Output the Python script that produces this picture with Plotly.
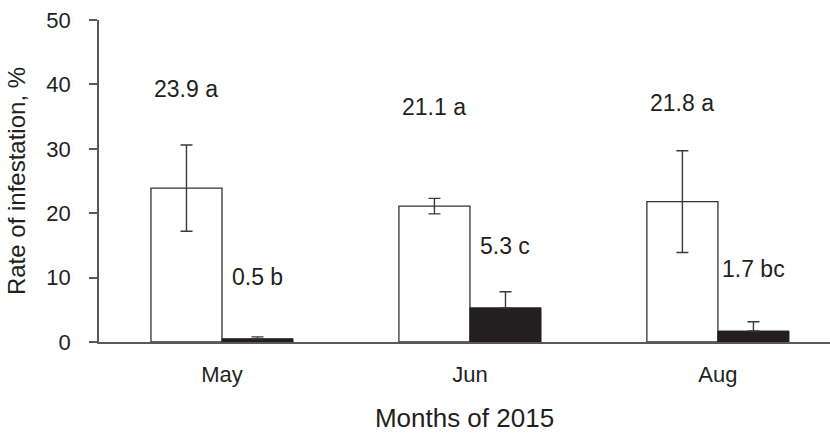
import plotly.graph_objects as go

# Infestation rate by month, two treatments (open vs. filled bars)
months = ["May", "Jun", "Aug"]
rate_open = [23.9, 21.1, 21.8]
err_open = [6.7, 1.2, 7.9]
rate_filled = [0.5, 5.3, 1.7]
err_filled = [0.3, 2.5, 1.45]
letters_open = ["a", "a", "a"]
letters_filled = ["b", "c", "bc"]

INK = "#231f20"
AXIS = "#595959"
FONT = "Liberation Sans, Arial, sans-serif"

fig = go.Figure()
fig.add_trace(go.Bar(
    x=months, y=rate_open, name="open",
    marker=dict(color="white", line=dict(color="#333333", width=1.3)),
    error_y=dict(type="data", array=err_open, color="#3a3a3a", thickness=1.4, width=6),
))
# filled bars: only the upper whisker shows above the dark fill
fig.add_trace(go.Bar(
    x=months, y=rate_filled, name="filled",
    marker=dict(color=INK, line=dict(color=INK, width=1)),
    error_y=dict(type="data", array=err_filled, arrayminus=[0] * len(err_filled),
                 color="#3a3a3a", thickness=1.4, width=6),
))

group_w = 0.573
half = group_w / 4
annotations = []
for i, m in enumerate(months):
    annotations.append(dict(
        x=i - half, y=rate_open[i], xref="x", yref="y",
        text=f"{rate_open[i]} {letters_open[i]}", showarrow=False,
        yanchor="middle", yshift=99, font=dict(size=23, color=INK, family=FONT),
    ))
    annotations.append(dict(
        x=i + half, y=rate_filled[i], xref="x", yref="y",
        text=f"{rate_filled[i]} {letters_filled[i]}", showarrow=False,
        yanchor="middle", yshift=62, font=dict(size=23, color=INK, family=FONT),
    ))

fig.update_layout(
    width=830, height=433,
    margin=dict(l=99, r=0, t=20, b=91),
    paper_bgcolor="white", plot_bgcolor="white",
    barmode="group", bargap=1 - group_w, bargroupgap=0,
    showlegend=False,
    font=dict(family=FONT, color=INK, size=22),
    annotations=annotations,
)
fig.update_xaxes(
    type="category", range=[-0.496, 2.452],
    showline=True, linecolor=AXIS, linewidth=1.5,
    ticks="", showgrid=False, zeroline=False,
    ticklabelstandoff=12,
    tickfont=dict(size=22, color=INK),
    title=dict(text="Months of 2015", font=dict(size=26, color=INK), standoff=26),
)
fig.update_yaxes(
    range=[0, 50], tickvals=[0, 10, 20, 30, 40, 50],
    showline=True, linecolor=AXIS, linewidth=1.5,
    ticks="outside", ticklen=8, tickwidth=1.5, tickcolor=AXIS,
    ticklabelstandoff=14,
    showgrid=False, zeroline=False,
    tickfont=dict(size=22, color=INK),
    title=dict(text="Rate of infestation, %", font=dict(size=24, color=INK), standoff=14),
)

fig.write_html("out.html")
